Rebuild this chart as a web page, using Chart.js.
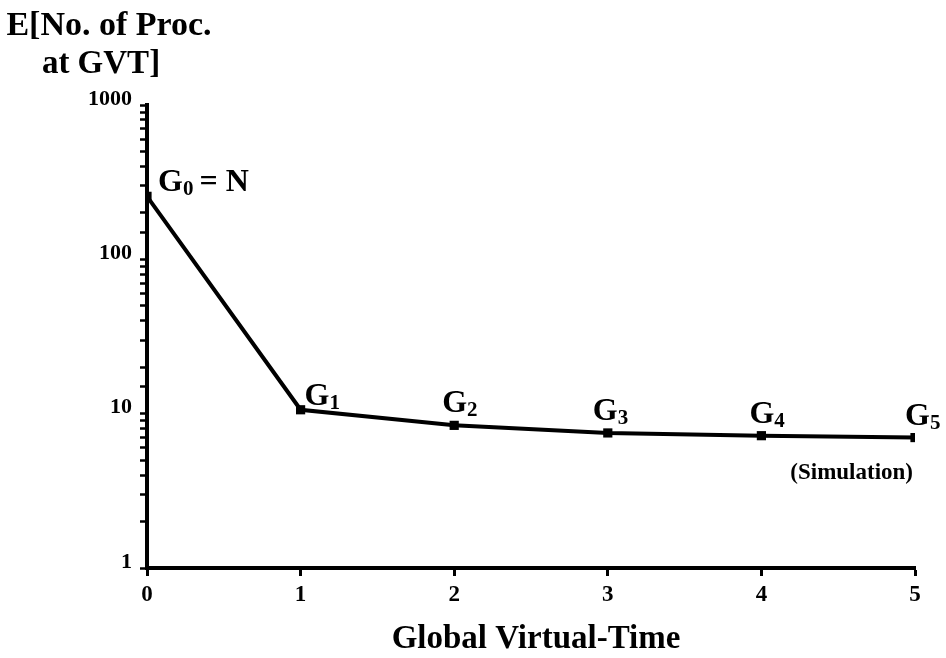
<!DOCTYPE html>
<html>
<head>
<meta charset="utf-8">
<script src="https://cdn.jsdelivr.net/npm/chart.js@4.4.1/dist/chart.umd.min.js"></script>
<style>
  html, body { margin: 0; padding: 0; background: #fff; }
  #wrap { width: 946px; height: 658px; position: relative; }
</style>
</head>
<body>
<div id="wrap"><canvas id="gvtChart"></canvas></div>
<script>
// Data
const gvtSteps = [0, 1, 2, 3, 4, 5];
const expectedProcs = [256, 10.6, 8.4, 7.5, 7.2, 7.0];
const pointNames = ['0', '1', '2', '3', '4', '5'];
const yTickValues = [1, 10, 100, 1000];

// Label placement relative to each point (pixels), kept apart from the data
const labelOffsets = [[11, -5], [4, -5], [-12, -13], [-15, -13], [-12, -13], [-10, -13]];

const serif = "'Liberation Serif', 'Times New Roman', serif";

// Plugin drawing the titles and the G_i labels
const annotations = {
    id: 'annotations',
    afterDraw(chart) {
        const ctx = chart.ctx;
        const xs = chart.scales.x;
        const ys = chart.scales.y;
        ctx.save();
        ctx.fillStyle = '#000';
        ctx.textBaseline = 'alphabetic';

        // Y axis title (two lines, top left)
        ctx.font = 'bold 34px ' + serif;
        ctx.textAlign = 'center';
        ctx.fillText('E[No. of Proc.', 109, 35);
        ctx.font = 'bold 33px ' + serif;
        ctx.fillText('at GVT]', 101, 73);

        // X axis title
        ctx.fillText('Global Virtual-Time', 536, 648);

        // G_i labels next to each point
        ctx.textAlign = 'left';
        gvtSteps.forEach((step, i) => {
            const px = xs.getPixelForValue(step) + labelOffsets[i][0];
            const py = ys.getPixelForValue(expectedProcs[i]) + labelOffsets[i][1];
            ctx.font = 'bold 32px ' + serif;
            ctx.fillText('G', px, py);
            const gw = ctx.measureText('G').width;
            ctx.font = 'bold 21px ' + serif;
            ctx.fillText(pointNames[i], px + gw, py + 4);
            if (i === 0) {
                const sw = ctx.measureText(pointNames[i]).width;
                ctx.font = 'bold 32px ' + serif;
                ctx.fillText('= N', px + gw + sw + 6, py);
            }
        });

        // Note under the curve
        ctx.font = 'bold 23px ' + serif;
        ctx.textAlign = 'right';
        ctx.fillText('(Simulation)', 913, 479);
        ctx.restore();
    }
};

const canvas = document.getElementById('gvtChart');
const ctx = canvas.getContext('2d');

new Chart(ctx, {
    type: 'line',
    data: {
        datasets: [{
            data: gvtSteps.map((x, i) => ({ x: x, y: expectedProcs[i] })),
            borderColor: '#000',
            backgroundColor: '#000',
            borderWidth: 4,
            pointStyle: 'rect',
            pointRadius: 6.5,
            pointBorderWidth: 0,
            tension: 0,
            fill: false,
        }],
    },
    plugins: [annotations],
    options: {
        responsive: true,
        maintainAspectRatio: false,
        animation: false,
        layout: { padding: { top: 105, right: 31, left: 0, bottom: 0 } },
        plugins: {
            legend: { display: false },
            tooltip: { enabled: false },
        },
        scales: {
            x: {
                type: 'linear',
                min: 0,
                max: 5,
                afterFit: (scale) => { scale.height = 90; },
                ticks: {
                    stepSize: 1,
                    color: '#000',
                    padding: 5,
                    font: { family: serif, size: 23, weight: 'bold' },
                },
                grid: {
                    drawOnChartArea: false,
                    drawTicks: true,
                    tickLength: 8,
                    tickWidth: 3,
                    tickColor: '#000',
                },
                border: { display: true, color: '#000', width: 4 },
            },
            y: {
                type: 'logarithmic',
                min: 1,
                max: 1000,
                afterFit: (scale) => { scale.width = 147; },
                ticks: {
                    autoSkip: false,
                    color: '#000',
                    padding: 8,
                    labelOffset: -6,
                    font: { family: serif, size: 22, weight: 'bold' },
                    callback: (value) => yTickValues.includes(value) ? String(value) : '',
                },
                grid: {
                    drawOnChartArea: false,
                    drawTicks: true,
                    tickLength: 7,
                    tickWidth: 2.5,
                    tickColor: '#000',
                },
                border: { display: true, color: '#000', width: 4 },
            },
        },
    },
});
</script>
</body>
</html>
